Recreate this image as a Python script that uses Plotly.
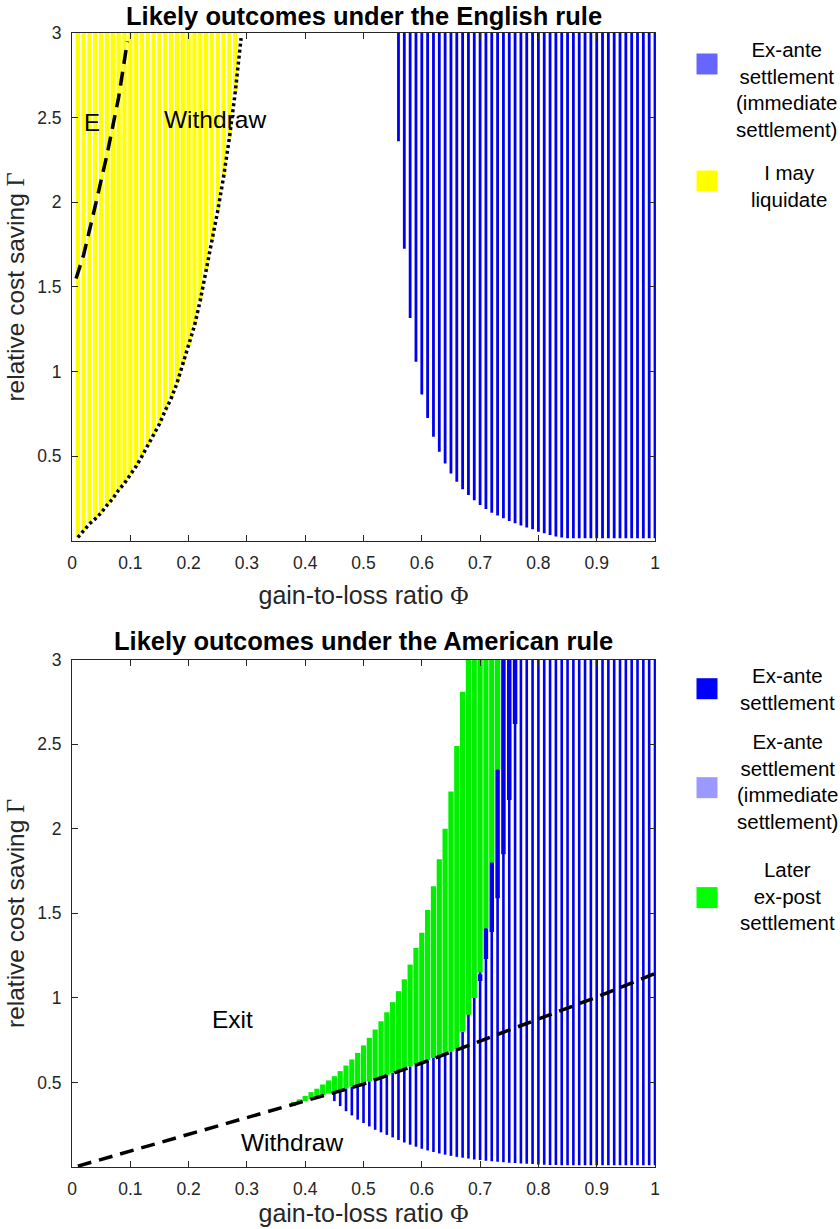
import plotly.graph_objects as go

# ---------------- English rule (top panel) ----------------
eng_bound_phi = [0.01, 0.02, 0.03, 0.04, 0.05, 0.06, 0.07, 0.08, 0.09, 0.10,
                 0.11, 0.12, 0.13, 0.14, 0.15, 0.16, 0.17, 0.18, 0.19, 0.20,
                 0.21, 0.22, 0.23, 0.24, 0.25, 0.26, 0.27, 0.28, 0.29]
eng_bound_gamma = [0.02, 0.06, 0.10, 0.13, 0.165, 0.21, 0.25, 0.30, 0.34, 0.39,
                   0.44, 0.50, 0.56, 0.62, 0.69, 0.77, 0.84, 0.93, 1.04, 1.15,
                   1.27, 1.42, 1.59, 1.77, 1.95, 2.15, 2.38, 2.65, 2.97]

eng_liq_phi = [0.01, 0.02, 0.03, 0.04, 0.05, 0.06, 0.07, 0.08, 0.09, 0.10,
               0.11, 0.12, 0.13, 0.14, 0.15, 0.16, 0.17, 0.18, 0.19, 0.20,
               0.21, 0.22, 0.23, 0.24, 0.25, 0.26, 0.27, 0.28]
eng_liq_low = [0.02, 0.06, 0.10, 0.13, 0.165, 0.21, 0.25, 0.30, 0.34, 0.39,
               0.44, 0.50, 0.56, 0.62, 0.69, 0.77, 0.84, 0.93, 1.04, 1.15,
               1.27, 1.42, 1.59, 1.77, 1.95, 2.15, 2.38, 2.65]

eng_E_phi = [0.007, 0.02, 0.04, 0.06, 0.08, 0.095]
eng_E_gamma = [1.55, 1.69, 1.98, 2.28, 2.62, 2.95]

eng_set_phi = [0.56, 0.57, 0.58, 0.59, 0.60, 0.61, 0.62, 0.63, 0.64, 0.65,
               0.66, 0.67, 0.68, 0.69, 0.70, 0.71, 0.72, 0.73, 0.74, 0.75,
               0.76, 0.77, 0.78, 0.79, 0.80, 0.81, 0.82, 0.83, 0.84, 0.85,
               0.86, 0.87, 0.88, 0.89, 0.90, 0.91, 0.92, 0.93, 0.94, 0.95,
               0.96, 0.97, 0.98, 0.99, 1.00]
eng_set_low = [2.36, 1.725, 1.316, 1.057, 0.864, 0.726, 0.614, 0.526, 0.457, 0.398,
               0.349, 0.305, 0.27, 0.24, 0.211, 0.187, 0.166, 0.149, 0.133, 0.117,
               0.103, 0.09, 0.078, 0.068, 0.054, 0.044, 0.034, 0.026, 0.02, 0.015,
               0.015, 0.015, 0.015, 0.015, 0.015, 0.015, 0.015, 0.015, 0.015, 0.015,
               0.015, 0.015, 0.015, 0.015, 0.015]

# ---------------- American rule (bottom panel) ----------------
am_dash_phi = [0.01, 0.1, 0.2, 0.3, 0.38, 0.45, 0.5, 0.6, 0.7, 0.8, 0.9, 1.0]
am_dash_gamma = [0.005, 0.094, 0.19, 0.29, 0.37, 0.44, 0.49, 0.615, 0.745, 0.875, 1.005, 1.145]

am_green_phi = [0.38, 0.39, 0.40, 0.41, 0.42, 0.43, 0.44, 0.45, 0.46, 0.47,
                0.48, 0.49, 0.50, 0.51, 0.52, 0.53, 0.54, 0.55, 0.56, 0.57,
                0.58, 0.59, 0.60, 0.61, 0.62, 0.63, 0.64, 0.65, 0.66,
                0.67, 0.68, 0.69, 0.70, 0.71, 0.72, 0.73]
am_green_low = [0.36, 0.38, 0.39, 0.40, 0.41, 0.425, 0.435, 0.445, 0.455, 0.465,
                0.475, 0.485, 0.495, 0.507, 0.52, 0.532, 0.545, 0.557, 0.57, 0.582,
                0.595, 0.607, 0.62, 0.632, 0.645, 0.658, 0.67, 0.683, 0.696,
                0.80, 0.90, 1.0, 1.15, 1.41, 1.80, 2.35]
am_green_high = [0.385, 0.40, 0.42, 0.443, 0.463, 0.488, 0.512, 0.537, 0.567, 0.60,
                 0.636, 0.675, 0.719, 0.764, 0.813, 0.862, 0.915, 0.975, 1.04, 1.11,
                 1.197, 1.296, 1.385, 1.52, 1.66, 1.82, 2.0, 2.22, 2.49,
                 2.81, 3.0, 3.0, 3.0, 3.0, 3.0, 3.0]

am_exante_phi = [0.70, 0.71, 0.72, 0.73, 0.74, 0.75, 0.76]
am_exante_low = [1.10, 1.23, 1.39, 1.59, 1.85, 2.17, 2.62]
am_exante_high = [1.14, 1.41, 1.80, 2.35, 3.0, 3.0, 3.0]

am_imm_phi = [0.45, 0.46, 0.47, 0.48, 0.49, 0.50, 0.51, 0.52, 0.53, 0.54,
              0.55, 0.56, 0.57, 0.58, 0.59, 0.60, 0.61, 0.62, 0.63, 0.64,
              0.65, 0.66, 0.67, 0.68, 0.69, 0.70, 0.71, 0.72, 0.73, 0.74,
              0.75, 0.76, 0.77, 0.78, 0.79, 0.80, 0.81, 0.82, 0.83, 0.84,
              0.85, 0.86, 0.87, 0.88, 0.89, 0.90, 0.91, 0.92, 0.93, 0.94,
              0.95, 0.96, 0.97, 0.98, 0.99, 1.00]
am_imm_low = [0.39, 0.36, 0.33, 0.305, 0.28, 0.26, 0.24, 0.22, 0.205, 0.19,
              0.175, 0.16, 0.145, 0.132, 0.12, 0.108, 0.098, 0.089, 0.08, 0.073,
              0.066, 0.06, 0.055, 0.05, 0.045, 0.041, 0.037, 0.034, 0.031, 0.028,
              0.025, 0.023, 0.021, 0.019, 0.017, 0.015, 0.013, 0.012, 0.012, 0.011,
              0.011, 0.010, 0.010, 0.010, 0.010, 0.010, 0.010, 0.010, 0.010, 0.010,
              0.010, 0.010, 0.010, 0.010, 0.010, 0.010]
am_imm_high = [0.445, 0.455, 0.465, 0.475, 0.485, 0.495, 0.507, 0.52, 0.532, 0.545,
               0.557, 0.57, 0.582, 0.595, 0.607, 0.62, 0.632, 0.645, 0.658, 0.67,
               0.683, 0.696, 0.80, 3.0, 3.0, 3.0, 3.0, 3.0, 3.0, 3.0,
               3.0, 3.0, 3.0, 3.0, 3.0, 3.0, 3.0, 3.0, 3.0, 3.0,
               3.0, 3.0, 3.0, 3.0, 3.0, 3.0, 3.0, 3.0, 3.0, 3.0,
               3.0, 3.0, 3.0, 3.0, 3.0, 3.0]

GAMMA_MAX = 3.0
x_ticks = [0, 0.1, 0.2, 0.3, 0.4, 0.5, 0.6, 0.7, 0.8, 0.9, 1]
x_ticklabels = ["0", "0.1", "0.2", "0.3", "0.4", "0.5", "0.6", "0.7", "0.8", "0.9", "1"]
y_ticks = [0.5, 1, 1.5, 2, 2.5, 3]
y_ticklabels = ["0.5", "1", "1.5", "2", "2.5", "3"]

FONT = "Liberation Sans, Arial, Helvetica, sans-serif"
SERIF = "Liberation Serif, Times New Roman, serif"
INK = "#262626"

# ---- layout geometry (pixels) ----
W, H = 840, 1229
ML, MR, MT, MB = 72, 185, 33, 61.5
PW, PH = W - ML - MR, H - MT - MB


def px(x):
    return (x - ML) / PW


def py(y):
    return (H - MB - y) / PH


def columns(phi, low, high):
    xs, ys = [], []
    for p, a, b in zip(phi, low, high):
        xs += [p, p, None]
        ys += [a, b, None]
    return xs, ys


fig = go.Figure()

# top panel
xs, ys = columns(eng_liq_phi, eng_liq_low, [GAMMA_MAX] * len(eng_liq_phi))
fig.add_trace(go.Scatter(x=xs, y=ys, mode="lines", line=dict(color="#ffff00", width=4.2),
                         name="I may liquidate", showlegend=False, xaxis="x", yaxis="y"))
xs, ys = columns(eng_set_phi, eng_set_low, [GAMMA_MAX] * len(eng_set_phi))
fig.add_trace(go.Scatter(x=xs, y=ys, mode="lines", line=dict(color="#0000f0", width=2.8),
                         name="Ex-ante settlement (immediate settlement)", showlegend=False,
                         xaxis="x", yaxis="y"))
fig.add_trace(go.Scatter(x=eng_bound_phi, y=eng_bound_gamma, mode="lines",
                         line=dict(color="black", width=3.5, dash="3px,3px"),
                         showlegend=False, xaxis="x", yaxis="y"))
fig.add_trace(go.Scatter(x=eng_E_phi, y=eng_E_gamma, mode="lines",
                         line=dict(color="black", width=3.5, dash="14px,8px"),
                         showlegend=False, xaxis="x", yaxis="y"))

# bottom panel
xs, ys = columns(am_imm_phi, am_imm_low, am_imm_high)
fig.add_trace(go.Scatter(x=xs, y=ys, mode="lines", line=dict(color="#0000f0", width=2.6),
                         name="Ex-ante settlement (immediate settlement)", showlegend=False,
                         xaxis="x2", yaxis="y2"))
xs, ys = columns(am_green_phi, am_green_low, am_green_high)
fig.add_trace(go.Scatter(x=xs, y=ys, mode="lines", line=dict(color="#00f000", width=5.2),
                         name="Later ex-post settlement", showlegend=False,
                         xaxis="x2", yaxis="y2"))
xs, ys = columns(am_exante_phi, am_exante_low, am_exante_high)
fig.add_trace(go.Scatter(x=xs, y=ys, mode="lines", line=dict(color="#0000f0", width=4.5),
                         name="Ex-ante settlement", showlegend=False,
                         xaxis="x2", yaxis="y2"))
fig.add_trace(go.Scatter(x=am_dash_phi, y=am_dash_gamma, mode="lines",
                         line=dict(color="black", width=3.5, dash="14px,8px"),
                         showlegend=False, xaxis="x2", yaxis="y2"))


def xaxis(domain_anchor, standoff):
    return dict(range=[0, 1], domain=[0, 1], anchor=domain_anchor,
                tickvals=x_ticks, ticktext=x_ticklabels,
                ticks="inside", ticklen=6, tickcolor=INK, tickwidth=1,
                showline=True, linecolor=INK, linewidth=1, mirror="ticks",
                showgrid=False, zeroline=False, ticklabelstandoff=6,
                tickfont=dict(size=17.5, color=INK, family=FONT),
                title=dict(text="gain-to-loss ratio <span style='font-family:" + SERIF + "'>Φ</span>",
                           font=dict(size=25, color=INK, family=FONT), standoff=standoff))


def yaxis(domain, anchor):
    return dict(range=[0, 3], domain=domain, anchor=anchor,
                tickvals=y_ticks, ticktext=y_ticklabels,
                ticks="inside", ticklen=6, tickcolor=INK, tickwidth=1,
                showline=True, linecolor=INK, linewidth=1, mirror="ticks",
                showgrid=False, zeroline=False, ticklabelstandoff=6,
                tickfont=dict(size=17.5, color=INK, family=FONT),
                title=dict(text="relative cost saving <span style='font-family:" + SERIF + "'>Γ</span>",
                           font=dict(size=24.5, color=INK, family=FONT), standoff=5))


top_domain = [py(541), 1]
bot_domain = [0, py(660)]

annotations = [
    dict(text="<b>Likely outcomes under the English rule</b>", x=0.5, y=py(16), xref="paper", yref="paper",
         showarrow=False, font=dict(size=25.5, color="black", family=FONT), xanchor="center", yanchor="middle"),
    dict(text="<b>Likely outcomes under the American rule</b>", x=0.5, y=py(641), xref="paper", yref="paper",
         showarrow=False, font=dict(size=25.5, color="black", family=FONT), xanchor="center", yanchor="middle"),
    dict(text="E", x=0.034, y=2.47, xref="x", yref="y", showarrow=False,
         font=dict(size=24, color="black", family=FONT)),
    dict(text="Withdraw", x=0.245, y=2.49, xref="x", yref="y", showarrow=False,
         font=dict(size=24.5, color="black", family=FONT)),
    dict(text="Exit", x=0.276, y=0.87, xref="x2", yref="y2", showarrow=False,
         font=dict(size=24.5, color="black", family=FONT)),
    dict(text="Withdraw", x=0.377, y=0.145, xref="x2", yref="y2", showarrow=False,
         font=dict(size=24.5, color="black", family=FONT)),
]

legend_items = [
    ("#6666ff", 707, 64, "Ex-ante<br>settlement<br>(immediate<br>settlement)", 786, 90),
    ("#ffff00", 707, 181, "I may<br>liquidate", 789, 186),
    ("#0000ff", 707, 689, "Ex-ante<br>settlement", 787, 689),
    ("#9999ff", 707, 788, "Ex-ante<br>settlement<br>(immediate<br>settlement)", 787, 782),
    ("#00ff00", 707, 898, "Later<br>ex-post<br>settlement", 787, 896),
]
shapes = []
S = 10.5
for color, sx, sy, text, tx, ty in legend_items:
    shapes.append(dict(type="rect", xref="paper", yref="paper",
                       x0=px(sx - S), x1=px(sx + S), y0=py(sy + S), y1=py(sy - S),
                       fillcolor=color, line=dict(width=0)))
    annotations.append(dict(text=text, x=px(tx), y=py(ty), xref="paper", yref="paper",
                            showarrow=False, align="center", xanchor="center", yanchor="middle",
                            font=dict(size=20.5, color="black", family=FONT)))

fig.update_layout(
    width=W, height=H,
    margin=dict(l=ML, r=MR, t=MT, b=MB, autoexpand=False),
    paper_bgcolor="white", plot_bgcolor="white",
    font=dict(family=FONT, color=INK),
    xaxis=xaxis("y", 14),
    yaxis=yaxis(top_domain, "x"),
    xaxis2=xaxis("y2", 3),
    yaxis2=yaxis(bot_domain, "x2"),
    annotations=annotations,
    shapes=shapes,
    showlegend=False,
)

fig.write_html("out.html")
